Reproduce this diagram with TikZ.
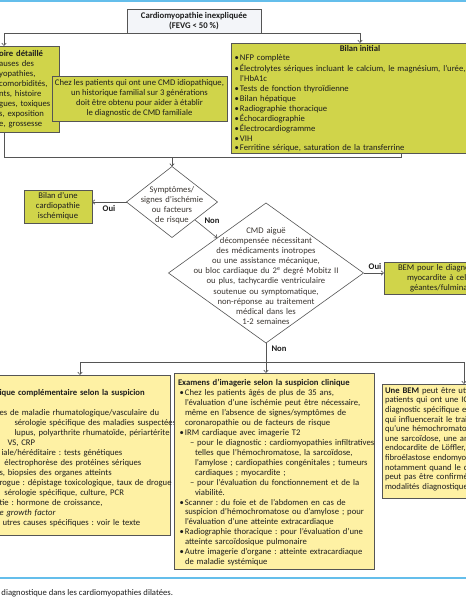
\documentclass[tikz,border=0pt]{standalone}
\usepackage{fontspec}
\setmainfont{Carlito}
\usetikzlibrary{arrows.meta,shapes.geometric,calc,shadows}
\definecolor{ygreen}{RGB}{208,212,74}
\definecolor{pyellow}{RGB}{254,241,164}
\definecolor{tfill}{RGB}{243,245,249}
\definecolor{bord}{RGB}{85,85,85}
\definecolor{lblue}{RGB}{100,190,235}
\definecolor{txt}{RGB}{30,30,30}
\definecolor{dtxt}{RGB}{60,55,50}
\newcommand{\bul}{\makebox[5.5pt][l]{\textbullet}}
\frenchspacing
\begin{document}
\frenchspacing
\begin{tikzpicture}[x=1pt,y=-1pt,
  every node/.style={inner sep=0pt,outer sep=0pt,text=txt},
  font=\fontsize{8.65}{9.9}\selectfont,
  shad/.style={drop shadow={shadow xshift=0.9pt,shadow yshift=-0.9pt,fill=black!60,opacity=1}},
  gbox/.style={draw=bord,line width=0.6pt,fill=ygreen,shad},
  ybox/.style={draw=bord,line width=0.6pt,fill=pyellow,shad},
  tbox/.style={draw=bord,line width=0.6pt,fill=tfill,shad},
  dia/.style={draw=bord,line width=0.6pt,fill=white,shape=diamond},
  lst/.style={anchor=north west,align=left,text width=#1},
  arr/.style={draw=bord,line width=0.6pt,-{Straight Barb[length=2.5pt,width=4.5pt]}},
  con/.style={draw=bord,line width=0.6pt},
  lab/.style={font=\fontsize{8.65}{9.9}\selectfont\bfseries}
]
\useasboundingbox (0,0) rectangle (466,600);
\clip (0,0) rectangle (466,600);
\fill[white] (0,0) rectangle (466,600);
\draw[lblue,line width=2pt] (0,1) -- (466,1);
\draw[lblue,line width=2pt] (0,578) -- (466,578);

% title
\node[tbox,minimum width=134pt,minimum height=24pt,align=center,font=\fontsize{8.7}{10}\selectfont\bfseries] (title) at (194,21) {Cardiomyopathie inexpliquée\\(FEVG < 50 \%)};

% left top
\node[gbox,minimum width=119pt,minimum height=86pt] (hist) at (-0.5,89) {};
\node[lst=80pt,font=\fontsize{8.65}{10}\selectfont] (histt) at (-0.8,49.6) {\strut\textbf{oire détaillé}\\auses des\\yopathies,\\comorbidités,\\nts, histoire\\gues, toxiques\\s, exposition\\e, grossesse};

% callout
\node[gbox,minimum width=175pt,minimum height=45pt,align=center] (call) at (139.5,98.5) {Chez les patients qui ont une CMD idiopathique,\\un historique familial sur 3 générations\\doit être obtenu pour aider à établir\\le diagnostic de CMD familiale};

% bilan initial
\node[gbox,minimum width=259pt,minimum height=110pt] (bilan) at (360.5,98) {};
\node[lab] (bilant) at (360,48) {Bilan initial};
\node[lst=300pt] (bilanl) at (234.5,53.6) {\strut\bul NFP complète\\\bul Électrolytes sériques incluant le calcium, le magnésium, l’urée,\\\hspace*{5.5pt}l’HbA1c\\\bul Tests de fonction thyroïdienne\\\bul Bilan hépatique\\\bul Radiographie thoracique\\\bul Échocardiographie\\\bul Électrocardiogramme\\\bul VIH\\\bul Ferritine sérique, saturation de la transferrine};

% top connectors
\coordinate (tl) at (4,33);
\coordinate (tr) at (360,33);
\draw[arr] (title.south) -| (hist.north -| tl);
\draw[arr] (title.south) -| (bilan.north -| tr);

% diamond 1
\node[dia,minimum width=91pt,minimum height=71pt] (d1) at (172,202) {};
\node[align=center,text width=85pt,text=dtxt] (d1t) at (172,205) {Symptômes/\\signes d’ischémie\\ou facteurs\\de risque};

% merge connector
\coordinate (jl) at (4,157);
\coordinate (jr) at (401,157);
\draw[con] (hist.south -| jl) -- (jl) -- (jr) -- (bilan.south -| jr);
\draw[arr] (jl -| d1.north) -- (d1.north);

% ischemic box
\node[gbox,minimum width=68pt,minimum height=33pt,align=center] (isch) at (58,206.5) {Bilan d’une\\cardiopathie\\ischémique};
\draw[arr] (d1.west) -- (d1.west -| isch.east);
\node[lab] (oui1) at (109,208) {Oui};

% diamond 2
\node[dia,minimum width=195pt,minimum height=140pt] (d2) at (266,273) {};
\node[align=center,text width=180pt,text=dtxt,font=\fontsize{8.65}{10.1}\selectfont] (d2t) at (266,276) {CMD aiguë\\décompensée nécessitant\\des médicaments inotropes\\ou une assistance mécanique,\\ou bloc cardiaque du 2\textsuperscript{e} degré Mobitz II\\ou plus, tachycardie ventriculaire\\soutenue ou symptomatique,\\non-réponse au traitement\\médical dans les\\1-2 semaines};
\node[lab] (non1) at (212,221) {Non};
\draw[arr] ($(d1.east)!0.5!(d1.south)$) -- ($(d2.west)!0.5!(d2.north)$);

% BEM box
\node[gbox,minimum width=126pt,minimum height=32pt] (bem) at (447,278) {};
\node[lst=100pt] (bemt) at (398,263.6) {\strut BEM pour le diagno\\\hspace*{9pt}myocardite à cell\\\hspace*{12pt}géantes/fulmina};
\node[lab] (oui2) at (375,266.5) {Oui};
\draw[arr] (d2.east) -- (d2.east -| bem.west);

% bottom boxes
\node[ybox,minimum width=230pt,minimum height=160pt] (lowl) at (55,455) {};
\node[lst=200pt,font=\fontsize{8.65}{10}\selectfont] (lowlt) at (-0.5,388.6) {\strut\textbf{ique complémentaire selon la suspicion}\\\mbox{}\\es de maladie rhumatologique/vasculaire du\\\hspace*{15pt}sérologie spécifique des maladies suspectées,\\\hspace*{15pt}lupus, polyarthrite rhumatoïde, périartérite\\\hspace*{8pt}VS, CRP\\\hspace*{2pt}iale/héréditaire : tests génétiques\\\hspace*{5pt}électrophorèse des protéines sériques\\s, biopsies des organes atteints\\rogue : dépistage toxicologique, taux de drogue\\\hspace*{5pt}sérologie spécifique, culture, PCR\\tie : hormone de croissance,\\\textit{e growth factor}\\\hspace*{3pt}utres causes spécifiques : voir le texte};

\node[ybox,minimum width=200pt,minimum height=196pt] (mid) at (274,471) {};
\node[lst=200pt,font=\fontsize{8.65}{9.95}\selectfont] (midt) at (178,378.6) {\strut\textbf{Examens d’imagerie selon la suspicion clinique}};
\node[lst=200pt,font=\fontsize{8.65}{9.95}\selectfont] (midl) at (179.5,388.6) {\strut\bul Chez les patients âgés de plus de 35 ans,\\
\hspace*{5.5pt}l’évaluation d’une ischémie peut être nécessaire,\\
\hspace*{5.5pt}même en l’absence de signes/symptômes de\\
\hspace*{5.5pt}coronaropathie ou de facteurs de risque\\
\bul IRM cardiaque avec imagerie T2\\
\hspace*{10.5pt}– pour le diagnostic : cardiomyopathies infiltratives\\
\hspace*{15.5pt}telles que l’hémochromatose, la sarcoïdose,\\
\hspace*{15.5pt}l’amylose ; cardiopathies congénitales ; tumeurs\\
\hspace*{15.5pt}cardiaques ; myocardite ;\\
\hspace*{10.5pt}– pour l’évaluation du fonctionnement et de la\\
\hspace*{15.5pt}viabilité.\\
\bul Scanner : du foie et de l’abdomen en cas de\\
\hspace*{5.5pt}suspicion d’hémochromatose ou d’amylose ; pour\\
\hspace*{5.5pt}l’évaluation d’une atteinte extracardiaque\\
\bul Radiographie thoracique : pour l’évaluation d’une\\
\hspace*{5.5pt}atteinte sarcoïdosique pulmonaire\\
\bul Autre imagerie d’organe : atteinte extracardiaque\\
\hspace*{5.5pt}de maladie systémique};

\node[ybox,minimum width=128pt,minimum height=114pt] (lowr) at (446,441) {};
\node[lst=120pt,font=\fontsize{8.65}{9.6}\selectfont] (lowrt) at (385,386.6) {\strut\textbf{Une BEM} peut être util\\patients qui ont une IC\\diagnostic spécifique e\\qui influencerait le trai\\qu’une hémochromatos\\une sarcoïdose, une am\\endocardite de Löffler,\\fibroélastose endomyo\\notamment quand le d\\peut pas être confirmé\\modalités diagnostique};

% lower connectors
\coordinate (bl) at (80,362);
\coordinate (br) at (464,362);
\draw[con] (bl) -- (br);
\draw[arr] (d2.south) -- (mid.north -| d2.south);
\draw[arr] (bl) -- (lowl.north -| bl);
\draw[arr] (br) -- (lowr.north -| br);
\node[lab] (non2) at (279,349) {Non};

% caption
\node[anchor=base west] (cap) at (1.5,595.5) {diagnostique dans les cardiomyopathies dilatées.};
\end{tikzpicture}
\end{document}
